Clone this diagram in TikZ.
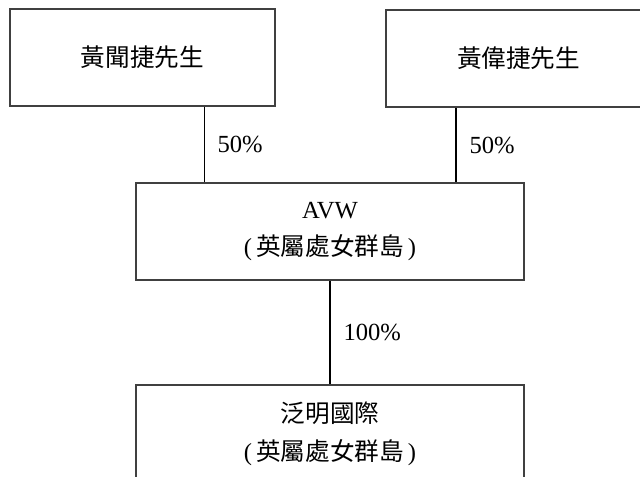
\documentclass[tikz,border=0pt]{standalone}
\usepackage{fontspec}
\setmainfont{Liberation Serif}
\newfontfamily\cjk{Noto Sans CJK TC}
\usetikzlibrary{positioning}

\begin{document}
\begin{tikzpicture}[
        entity/.style = {draw = black!75, line width = 1.1pt, minimum width = 5.3cm,
            minimum height = 1.94cm, inner sep = 0, align = center,
            font = \fontsize{14}{21.6}\selectfont},
        wide/.style = {entity, minimum width = 7.76cm},
        holding/.style = {line width = 0.6pt},
        share/.style = {anchor = west, inner sep = 0, xshift = 0.26cm,
            font = \fontsize{14}{16}\selectfont}
    ]
            \useasboundingbox (0, 0) rectangle (12.8, 9.54);
            \def\tie{1.38}

            \node[entity] (wen) at (2.85, 8.39) {\cjk 黃聞捷先生};
            \node[entity] (wei) at (10.37, 8.37) {\cjk 黃偉捷先生};
            \node[wide] (avw) at (6.6, 4.91) {AVW\\({\cjk\,英屬處女群島\,})};
            \node[wide] (fanming) at (6.6, 0.87) {{\cjk 泛明國際}\\({\cjk\,英屬處女群島\,})};

            \coordinate (tieL) at ([xshift = \tie cm] avw.north west);
            \coordinate (tieR) at ([xshift = -\tie cm] avw.north east);

            \draw[holding] (wen.south -| tieL) -- node[share] (wenpct) {50\%} (tieL);
            \draw[holding] (wei.south -| tieR) -- node[share] (weipct) {50\%} (tieR);
            \draw[holding] (avw.south) -- node[share] (avwpct) {100\%} (fanming.north);
        \end{tikzpicture}
\end{document}
